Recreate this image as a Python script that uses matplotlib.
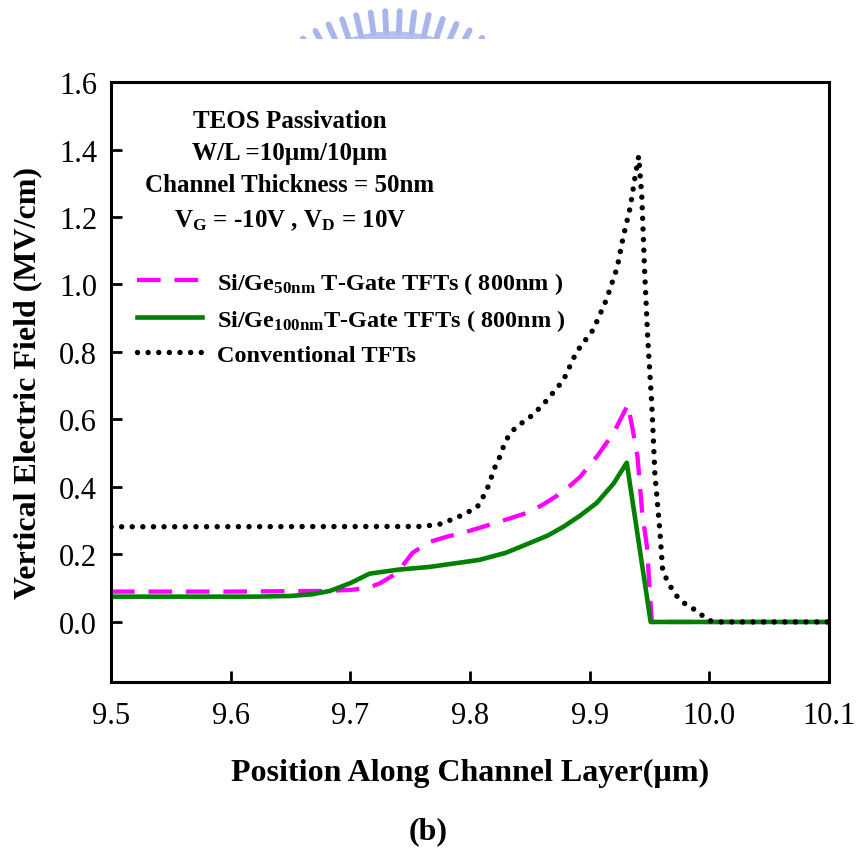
import numpy as np
import matplotlib
matplotlib.use('Agg')
import matplotlib.pyplot as plt
from matplotlib.patches import Wedge
from matplotlib.ticker import FormatStrFormatter

plt.rcParams['font.family'] = ['Liberation Serif', 'DejaVu Serif']
plt.rcParams['mathtext.fontset'] = 'custom'
plt.rcParams['mathtext.rm'] = 'Liberation Serif'
plt.rcParams['mathtext.bf'] = 'Liberation Serif:bold'
plt.rcParams['mathtext.it'] = 'Liberation Serif:italic'

# Si/Ge 50nm T-Gate (dashed magenta)
x_sige50 = [9.5, 9.60, 9.68, 9.70, 9.714, 9.725, 9.739, 9.752, 9.766, 9.78, 9.794,
            9.822, 9.85, 9.862, 9.878, 9.892, 9.906, 9.92, 9.932, 9.936, 9.940,
            9.944, 9.948, 9.950, 9.952, 10.1]
y_sige50 = [0.09, 0.09, 0.092, 0.095, 0.10, 0.115, 0.145, 0.205, 0.237, 0.252, 0.264,
            0.294, 0.326, 0.350, 0.386, 0.43, 0.49, 0.56, 0.644, 0.57, 0.49,
            0.32, 0.22, 0.10, 0.0, 0.0]

# Si/Ge 100nm T-Gate (solid green)
x_sige100 = [9.5, 9.62, 9.65, 9.668, 9.683, 9.70, 9.716, 9.74, 9.766, 9.808, 9.83,
             9.85, 9.865, 9.878, 9.892, 9.906, 9.92, 9.931, 9.951, 10.1]
y_sige100 = [0.075, 0.075, 0.077, 0.082, 0.092, 0.115, 0.143, 0.155, 0.163, 0.184, 0.205,
             0.234, 0.256, 0.282, 0.315, 0.353, 0.41, 0.472, 0.0, 0.0]

# Conventional TFTs (dotted black)
x_conv = [9.5, 9.76, 9.775, 9.78, 9.789, 9.797, 9.806, 9.811, 9.815, 9.818, 9.821,
          9.825, 9.828, 9.832, 9.839, 9.848, 9.856, 9.864, 9.878, 9.889, 9.903,
          9.914, 9.923, 9.928, 9.934, 9.938, 9.941, 9.9436, 9.946, 9.9486, 9.952,
          9.9545, 9.9586, 9.961, 9.9645, 9.9687, 9.974, 9.982, 9.990, 9.998, 10.005, 10.1]
y_conv = [0.282, 0.283, 0.29, 0.297, 0.309, 0.323, 0.34, 0.371, 0.40, 0.43, 0.46,
          0.49, 0.52, 0.55, 0.58, 0.60, 0.626, 0.656, 0.716, 0.80, 0.866,
          0.955, 1.05, 1.14, 1.23, 1.32, 1.38, 1.26, 1.035, 0.837, 0.64,
          0.44, 0.273, 0.154, 0.125, 0.098, 0.071, 0.047, 0.033, 0.006, 0.0, 0.0]

labels = ['Si/Ge$_{\\mathbf{50nm}}$ T-Gate TFTs ( 800nm )',
          'Si/Ge$_{\\mathbf{100nm}}$T-Gate TFTs ( 800nm )',
          'Conventional TFTs']
notes = ['TEOS Passivation',
         'W/L =10\u00b5m/10\u00b5m',
         'Channel Thickness = 50nm',
         'V$_{\\mathbf{G}}$ = -10V , V$_{\\mathbf{D}}$ = 10V']
xticks = [9.5, 9.6, 9.7, 9.8, 9.9, 10.0, 10.1]
yticks = [0.0, 0.2, 0.4, 0.6, 0.8, 1.0, 1.2, 1.4, 1.6]

fig = plt.figure(figsize=(8.57, 8.54), dpi=100)
ax = fig.add_axes([0.1295, 0.2002, 0.8378, 0.7026])

ax.plot(x_sige50, y_sige50, color='#ff00ff', lw=3.1, linestyle=(0, (5.5, 3.2)), label=labels[0])
ax.plot(x_sige100, y_sige100, color='#008000', lw=3.3, label=labels[1])
ax.plot(x_conv, y_conv, color='black', lw=3.9, linestyle=(0, (0.01, 1.95)),
        dash_capstyle='round', label=labels[2])

ax.set_xlim(9.5, 10.1)
ax.set_ylim(-0.178, 1.6)
ax.set_xticks(xticks)
ax.set_yticks(yticks)
ax.xaxis.set_major_formatter(FormatStrFormatter('%.1f'))
ax.yaxis.set_major_formatter(FormatStrFormatter('%.1f'))
ax.tick_params(direction='in', length=8, width=2, labelsize=22)
ax.tick_params(axis='x', pad=14)
ax.tick_params(axis='y', pad=10)
for s in ax.spines.values():
    s.set_linewidth(2.2)

ax.set_xlabel('Position Along Channel Layer(\u00b5m)', fontsize=23, fontweight='bold', labelpad=20)
ax.set_ylabel('Vertical Electric Field (MV/cm)', fontsize=23, fontweight='bold', labelpad=12)

note_y = [0.925, 0.872, 0.818, 0.76]
for t, yy in zip(notes, note_y):
    ax.text(0.249, yy, t, transform=ax.transAxes, ha='center', va='baseline',
            fontsize=18, fontweight='bold')

ax.legend(loc='upper left', bbox_to_anchor=(0.036, 0.687), frameon=False,
          prop={'weight': 'bold', 'size': 17.5}, handlelength=2.7,
          handletextpad=0.6, labelspacing=0.45, borderpad=0, borderaxespad=0)

fig.text(428 / 857, 1 - 832 / 854, '(b)', ha='center', va='center',
         fontsize=23, fontweight='bold')

# faint watermark logo, cut off at the top of the page
wm = fig.add_axes([0, 1 - 40 / 854, 1, 40 / 854])
wm.set_xlim(0, 857)
wm.set_ylim(40, 0)
wm.axis('off')
cx, cy = 393, 173
for ang in np.arange(-34, 35, 5.2):
    a = np.deg2rad(ang)
    wm.plot([cx + 140 * np.sin(a), cx + 161 * np.sin(a)],
            [cy - 140 * np.cos(a), cy - 161 * np.cos(a)],
            color='#a9b6ec', lw=4.2, solid_capstyle='round')
wm.add_patch(Wedge((cx, cy), 140, 235, 305, width=14, color='#b4c0ef'))

fig.savefig('out.png', dpi=100)
